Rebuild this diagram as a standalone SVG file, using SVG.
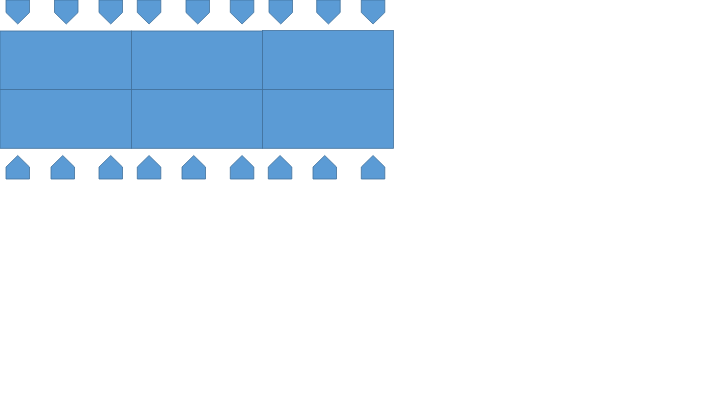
<svg xmlns="http://www.w3.org/2000/svg" width="720" height="405" viewBox="0 0 720 405">
<style>
.cell{fill:#5B9BD5;stroke:#41719C;stroke-width:0.8}
.pin{fill:#5B9BD5;stroke:#41719C;stroke-width:0.8}
</style>
<defs>
<polygon id="down" points="0,0 23.5,0 23.5,12.5 11.75,24 0,12.5"/>
<polygon id="up" points="0,12 11.75,0.5 23.5,12 23.5,24 0,24"/>
</defs>
<rect width="720" height="405" fill="#FFFFFF"/>
<g id="cell-r1c1"><rect class="cell" x="0" y="31" width="131.5" height="58.5"/></g>
<g id="cell-r1c2"><rect class="cell" x="131.5" y="31" width="131" height="58.5"/></g>
<g id="cell-r1c3"><rect class="cell" x="262.5" y="30.5" width="131" height="59"/></g>
<g id="cell-r2c1"><rect class="cell" x="0" y="89.5" width="131.5" height="58.8"/></g>
<g id="cell-r2c2"><rect class="cell" x="131.5" y="89.5" width="131" height="58.8"/></g>
<g id="cell-r2c3"><rect class="cell" x="262.5" y="89.5" width="131" height="58.8"/></g>
<g id="pin-top-1"><use class="pin" href="#down" x="6" y="0"/></g>
<g id="pin-top-2"><use class="pin" href="#down" x="54.5" y="0"/></g>
<g id="pin-top-3"><use class="pin" href="#down" x="99" y="0"/></g>
<g id="pin-top-4"><use class="pin" href="#down" x="137.3" y="0"/></g>
<g id="pin-top-5"><use class="pin" href="#down" x="186" y="0"/></g>
<g id="pin-top-6"><use class="pin" href="#down" x="230.3" y="0"/></g>
<g id="pin-top-7"><use class="pin" href="#down" x="269" y="0"/></g>
<g id="pin-top-8"><use class="pin" href="#down" x="316.7" y="0"/></g>
<g id="pin-top-9"><use class="pin" href="#down" x="361.3" y="0"/></g>
<g id="pin-bot-1"><use class="pin" href="#up" x="6" y="155"/></g>
<g id="pin-bot-2"><use class="pin" href="#up" x="51" y="155"/></g>
<g id="pin-bot-3"><use class="pin" href="#up" x="99" y="155"/></g>
<g id="pin-bot-4"><use class="pin" href="#up" x="137.3" y="155"/></g>
<g id="pin-bot-5"><use class="pin" href="#up" x="182" y="155"/></g>
<g id="pin-bot-6"><use class="pin" href="#up" x="230.3" y="155"/></g>
<g id="pin-bot-7"><use class="pin" href="#up" x="268.3" y="155"/></g>
<g id="pin-bot-8"><use class="pin" href="#up" x="313" y="155"/></g>
<g id="pin-bot-9"><use class="pin" href="#up" x="361.3" y="155"/></g>
</svg>
